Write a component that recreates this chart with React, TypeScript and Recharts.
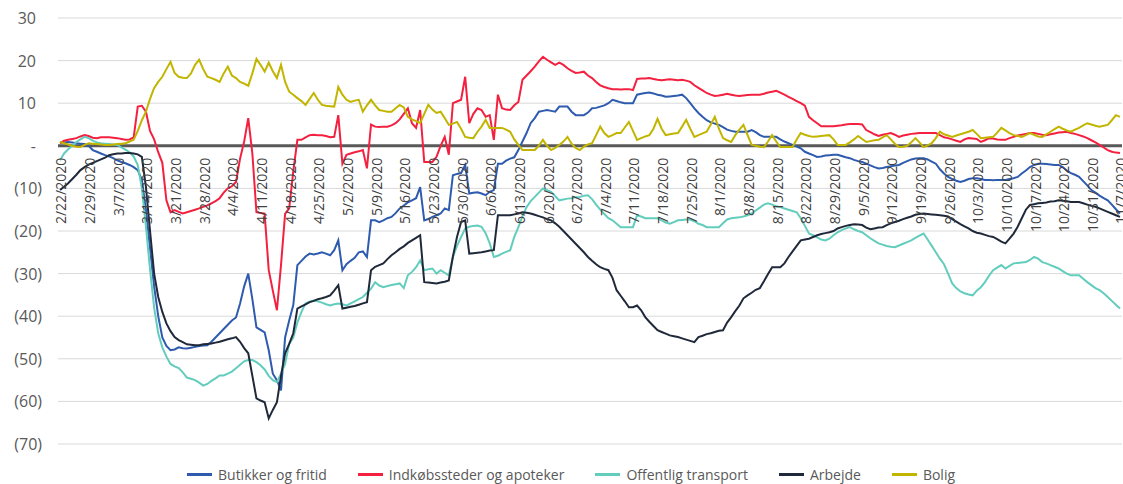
import React from "react";
import {
  LineChart,
  Line,
  XAxis,
  YAxis,
  CartesianGrid,
  ReferenceLine,
} from "recharts";

// daily values, 2/22/2020 .. 11/7/2020 (one row = one week)
const butikker = [
  0.7, 0.8, 0.9, 0.8, 0.6, 0.5, 0.4,
  0.0, -1.0, -1.4, -1.8, -2.2, -2.5, -2.9,
  -3.4, -3.8, -4.1, -4.5, -5.0, -5.7, -8.0,
  -15.0, -24.0, -33.0, -40.0, -45.0, -47.0, -48.0,
  -47.8, -47.3, -47.5, -47.6, -47.4, -47.2, -47.0,
  -46.9, -46.8, -46.0, -45.0, -44.0, -43.0, -42.0,
  -41.0, -40.3, -37.0, -33.0, -30.0, -36.0, -42.6,
  -43.2, -43.8, -48.0, -53.5, -55.0, -57.4, -45.0,
  -41.0, -37.4, -28.0, -27.0, -26.0, -25.3, -25.5,
  -25.3, -25.0, -25.3, -25.7, -24.5, -22.2, -29.2,
  -27.8, -27.0, -26.3, -25.0, -24.8, -26.1, -17.5,
  -17.5, -17.9, -17.5, -17.0, -16.7, -15.8, -14.7,
  -14.0, -13.3, -12.8, -12.3, -9.7, -17.5, -17.2,
  -16.7, -16.3, -15.9, -14.7, -15.1, -6.9, -6.6,
  -6.4, -4.5, -11.2, -11.0, -10.9, -11.2, -11.6,
  -10.8, -10.4, -4.2, -4.2, -3.5, -3.0, -2.7,
  -1.0, 1.0, 3.0, 5.3, 6.5, 8.0, 8.2,
  8.4, 8.2, 8.0, 9.2, 9.2, 9.2, 8.0,
  7.2, 7.2, 7.2, 7.8, 8.8, 8.9, 9.2,
  9.5, 10.0, 10.8, 10.5, 10.2, 10.0, 10.0,
  10.0, 12.0, 12.2, 12.4, 12.5, 12.3, 12.0,
  11.8, 11.5, 11.6, 11.7, 11.8, 12.0, 11.2,
  10.0, 8.8, 7.7, 6.8, 6.0, 5.5, 5.2,
  4.9, 4.4, 3.8, 3.5, 3.3, 3.3, 3.3,
  3.3, 3.7, 3.2, 2.5, 2.1, 2.1, 2.1,
  2.1, 1.5, 1.0, 0.6, 0.2, -0.2, -0.6,
  -1.4, -1.8, -2.2, -2.6, -2.5, -2.3, -2.2,
  -2.1, -2.1, -2.4, -2.7, -2.9, -3.3, -3.6,
  -3.8, -4.2, -4.6, -5.0, -5.3, -5.2, -5.0,
  -4.8, -4.6, -4.5, -4.0, -3.6, -3.2, -3.0,
  -2.9, -2.9, -3.2, -3.7, -4.2, -5.5, -6.5,
  -7.3, -7.8, -8.2, -8.5, -8.2, -7.8, -7.6,
  -7.6, -7.8, -8.0, -8.0, -8.1, -8.0, -8.0,
  -8.0, -7.8, -7.6, -7.3, -6.5, -5.8, -5.0,
  -4.5, -4.2, -4.2, -4.3, -4.4, -4.5, -4.5,
  -5.0, -5.8, -6.4, -6.8, -7.3, -8.3, -9.3,
  -10.4, -11.0, -11.7, -12.3, -12.8, -13.8, -14.9,
  -15.9,
];

const indkob = [
  0.6, 1.2, 1.4, 1.6, 1.8, 2.2, 2.5,
  2.3, 1.9, 1.8, 2.0, 2.0, 2.0, 1.9,
  1.8, 1.6, 1.4, 1.5, 2.0, 9.2, 9.4,
  8.0, 3.5, 1.5, -1.5, -4.0, -12.8, -15.6,
  -15.1, -15.5, -15.9, -15.6, -15.3, -15.0, -14.7,
  -14.3, -14.0, -13.5, -13.0, -12.3, -11.0, -10.0,
  -9.5, -8.5, -3.0, 1.0, 6.5, -1.8, -15.6,
  -15.8, -15.9, -29.2, -34.0, -38.6, -28.0, -16.0,
  -14.7, -6.0, 1.4, 1.4, 2.0, 2.5, 2.6,
  2.5, 2.5, 2.3, 2.0, 2.1, 7.2, -4.2,
  -2.1, -1.8, -1.5, -1.3, -1.0, -5.3, 5.0,
  4.5, 4.4, 4.5, 4.5, 4.8, 5.3, 6.2,
  7.5, 8.8, 5.3, 4.2, 8.4, -3.8, -3.8,
  -3.8, -2.6, 0.0, 2.1, -2.1, 10.0, 10.4,
  10.8, 16.2, 5.3, 7.5, 8.8, 8.4, 6.8,
  7.2, 1.4, 12.0, 8.8, 8.5, 8.4, 9.5,
  10.3, 15.5, 16.5, 17.5, 18.6, 19.8, 20.9,
  20.2, 19.6, 19.0, 19.5, 19.0, 18.2, 17.6,
  17.1, 17.2, 17.4, 16.5, 15.9, 15.0, 14.2,
  13.8, 13.5, 13.3, 13.3, 13.2, 13.3, 13.3,
  13.1, 15.7, 15.8, 15.8, 15.9, 15.7, 15.5,
  15.4, 15.5, 15.6, 15.5, 15.4, 15.5, 15.3,
  15.0, 14.2, 13.6, 13.0, 12.4, 12.0, 11.7,
  11.8, 12.0, 12.2, 12.0, 11.8, 11.7, 11.8,
  11.9, 12.0, 12.0, 12.0, 12.2, 12.5, 12.7,
  12.9, 12.5, 12.0, 11.5, 11.0, 10.5, 10.0,
  9.4, 6.8, 6.0, 5.3, 4.6, 4.6, 4.6,
  4.6, 4.7, 4.8, 5.0, 5.1, 5.1, 5.1,
  5.0, 3.7, 3.2, 2.7, 2.3, 2.6, 2.8,
  3.0, 2.6, 2.1, 2.4, 2.6, 2.8, 2.9,
  3.0, 3.0, 3.0, 3.0, 3.0, 2.5, 2.0,
  1.8, 1.5, 1.2, 0.9, 1.5, 1.8, 1.7,
  1.6, 0.9, 1.3, 1.8, 1.7, 1.5, 1.4,
  1.4, 1.8, 2.1, 2.4, 2.6, 2.8, 3.0,
  3.0, 2.8, 2.6, 2.5, 2.7, 2.9, 3.1,
  3.2, 3.3, 3.0, 2.8, 2.5, 2.2, 1.8,
  1.3, 0.8, 0.2, -0.4, -1.0, -1.4, -1.6,
  -1.7,
];

const transport = [
  -3.4, -1.8, -0.8, 0.0, 0.9, 1.5, 2.1,
  1.8, 1.2, 0.8, 0.6, 0.5, 0.4, 0.3,
  0.2, -0.4, -0.9, -1.5, -2.5, -4.5, -10.0,
  -19.0, -29.0, -38.0, -44.0, -47.3, -49.5, -51.2,
  -51.8, -52.2, -53.2, -54.4, -54.7, -55.0, -55.6,
  -56.3, -55.9, -55.2, -54.6, -53.9, -53.9, -53.5,
  -53.0, -52.2, -51.4, -50.6, -50.3, -50.3, -50.8,
  -51.5, -52.5, -54.0, -55.0, -55.5, -53.5, -51.2,
  -46.5, -45.0, -41.5, -39.0, -37.0, -36.6, -36.3,
  -36.5, -36.8, -37.2, -37.5, -37.2, -37.0, -37.2,
  -37.5, -37.0, -36.5, -36.0, -35.5, -34.5, -33.5,
  -32.0, -32.8, -33.2, -32.9, -32.7, -32.5, -32.3,
  -33.4, -30.4, -29.6, -28.5, -26.9, -29.2, -29.0,
  -28.8, -30.0, -29.2, -29.8, -30.4, -26.1, -23.5,
  -21.4, -19.4, -19.0, -18.8, -18.7, -19.0, -20.5,
  -22.9, -26.1, -25.8, -25.3, -24.9, -24.5, -21.4,
  -19.1, -16.5, -14.4, -13.0, -12.0, -11.0, -10.0,
  -10.4, -10.8, -11.8, -12.8, -12.6, -12.4, -12.3,
  -12.1, -12.0, -11.7, -11.6, -12.5, -13.8, -15.0,
  -16.0, -17.0, -17.5, -18.3, -19.1, -19.1, -19.1,
  -19.1, -16.3, -16.6, -17.0, -17.0, -17.0, -17.0,
  -17.5, -18.0, -18.3, -17.9, -17.5, -17.4, -17.3,
  -17.3, -17.7, -18.3, -18.6, -19.1, -19.1, -19.1,
  -19.1, -18.2, -17.3, -17.0, -16.9, -16.8, -16.6,
  -16.3, -15.9, -15.2, -14.5, -13.8, -13.5, -13.8,
  -14.2, -14.4, -14.7, -15.0, -15.3, -15.6, -17.0,
  -18.8, -20.6, -21.0, -21.5, -22.0, -22.2, -21.8,
  -21.0, -20.3, -19.8, -19.4, -19.1, -19.6, -20.0,
  -20.3, -21.0, -21.7, -22.3, -22.9, -23.2, -23.5,
  -23.7, -23.8, -23.4, -23.0, -22.6, -22.2, -21.6,
  -21.1, -20.6, -22.0, -23.5, -25.0, -26.5, -27.8,
  -30.0, -32.3, -33.4, -34.2, -34.6, -34.9, -35.1,
  -34.0, -33.2, -32.0, -30.5, -29.2, -28.6, -28.0,
  -28.8, -28.2, -27.6, -27.5, -27.4, -27.3, -26.8,
  -26.1, -26.5, -27.3, -27.6, -28.0, -28.4, -28.8,
  -29.4, -30.0, -30.4, -30.4, -30.4, -31.2, -32.0,
  -32.7, -33.4, -33.9, -34.6, -35.5, -36.4, -37.3,
  -38.2,
];

const arbejde = [
  -10.4, -9.6, -8.8, -7.8, -6.8, -5.7, -5.0,
  -4.4, -4.0, -3.6, -3.2, -2.8, -2.2, -2.0,
  -1.8, -1.8, -1.7, -1.7, -1.8, -2.0, -2.6,
  -9.7, -20.0, -30.0, -35.5, -39.0, -41.7, -43.5,
  -44.9, -45.6, -46.1, -46.6, -46.7, -46.8, -46.8,
  -46.6, -46.5, -46.4, -46.2, -46.0, -45.7, -45.4,
  -45.2, -44.9, -46.0, -47.5, -48.7, -54.0, -59.3,
  -59.8, -60.2, -64.0, -62.0, -60.2, -54.0, -48.7,
  -46.5, -44.0, -38.2, -37.7, -37.2, -36.7, -36.4,
  -36.0, -35.8, -35.5, -35.1, -34.0, -32.7, -38.2,
  -38.0, -37.8, -37.6, -37.3, -37.0, -36.7, -29.2,
  -28.4, -28.0, -27.6, -26.6, -25.7, -25.0, -24.2,
  -23.6, -22.8, -22.2, -21.6, -21.0, -32.0, -32.1,
  -32.2, -32.3, -32.1, -31.9, -31.6, -26.0, -21.4,
  -17.9, -17.5, -25.3, -25.2, -25.1, -25.0, -24.8,
  -24.6, -24.5, -16.3, -16.3, -16.3, -16.3, -16.1,
  -15.9, -15.6, -15.7, -15.9, -16.2, -16.5, -16.8,
  -17.2, -17.5, -18.2, -19.0, -20.0, -21.0, -22.0,
  -23.0, -24.0, -25.0, -26.1, -27.0, -27.8, -28.5,
  -28.9, -29.2, -31.0, -33.9, -35.2, -36.5, -37.9,
  -37.9, -37.5, -38.6, -40.2, -41.3, -42.3, -43.3,
  -43.7, -44.1, -44.5, -44.7, -44.9, -45.2, -45.5,
  -45.8, -46.1, -44.9, -44.6, -44.2, -44.0, -43.7,
  -43.4, -43.3, -41.5, -40.2, -38.8, -37.5, -35.8,
  -35.1, -34.5, -33.8, -33.4, -31.8, -30.1, -28.5,
  -28.5, -28.5, -27.6, -26.1, -24.8, -23.5, -22.2,
  -22.0, -21.8, -21.4, -21.0, -20.7, -20.5, -20.3,
  -20.0, -19.4, -19.1, -18.8, -18.6, -18.4, -18.5,
  -18.6, -19.2, -19.6, -19.4, -19.2, -19.1, -18.6,
  -18.2, -17.9, -17.6, -17.2, -16.9, -16.6, -16.2,
  -16.0, -15.9, -16.0, -16.1, -16.2, -16.3, -16.4,
  -16.6, -17.2, -17.8, -18.4, -18.9, -19.4, -20.0,
  -20.4, -20.6, -20.9, -21.2, -21.4, -21.9, -22.5,
  -22.9, -21.8, -20.6, -19.0, -17.0, -15.0, -13.9,
  -13.7, -13.5, -13.4, -13.3, -13.1, -13.0, -12.8,
  -12.9, -13.0, -13.2, -13.2, -13.2, -13.5, -13.8,
  -14.1, -14.3, -14.7, -15.1, -15.5, -15.9, -16.3,
  -16.7,
];

const bolig = [
  0.9, 0.6, 0.3, 0.0, -0.2, -0.3, 0.2,
  0.6, 0.5, 0.4, 0.3, 0.2, 0.2, 0.3,
  0.4, 0.5, 0.6, 1.0, 1.4, 3.5, 6.0,
  8.0, 11.0, 13.6, 15.0, 16.2, 18.0, 19.7,
  17.1, 16.2, 16.0, 15.9, 17.0, 19.0, 20.2,
  18.0, 16.2, 15.9, 15.5, 15.0, 17.0, 18.6,
  16.5, 15.9, 15.0, 14.6, 14.1, 17.0, 20.4,
  19.0, 17.4, 19.5, 17.5, 15.9, 19.0, 15.0,
  12.7, 12.0, 11.2, 10.5, 9.6, 11.0, 12.4,
  10.8, 9.6, 9.4, 9.3, 9.2, 13.8, 12.0,
  10.8, 10.3, 10.6, 10.8, 8.0, 9.5, 10.8,
  9.5, 8.4, 8.2, 8.0, 8.0, 8.8, 9.6,
  9.0, 6.8, 6.2, 5.8, 5.3, 7.5, 9.6,
  8.5, 7.7, 8.0, 6.5, 4.9, 5.2, 5.6,
  4.0, 2.1, 1.9, 1.8, 3.3, 4.5, 6.1,
  4.2, 4.2, 4.2, 4.2, 3.8, 3.3, 1.5,
  0.2, -1.0, -1.0, -1.0, -1.0, 0.0, 1.4,
  0.0, -1.0, -0.5, 0.2, 1.0, 2.1, 0.5,
  -0.5, -1.0, -0.2, 0.3, 0.6, 2.5, 4.5,
  3.0, 2.1, 2.5, 3.0, 3.0, 4.3, 5.6,
  3.5, 1.4, 1.8, 2.2, 2.5, 4.0, 6.3,
  4.0, 2.5, 2.7, 2.9, 3.0, 4.5, 6.1,
  4.0, 2.1, 2.5, 2.9, 3.3, 5.0, 6.8,
  4.0, 1.8, 1.3, 0.9, 2.5, 3.8, 4.9,
  2.5, 0.2, 0.0, -0.2, -0.3, 1.0, 2.5,
  1.0, -0.3, -0.3, -0.3, -0.3, 1.5, 3.0,
  2.6, 2.3, 2.1, 2.2, 2.3, 2.4, 2.5,
  1.5, 0.2, 0.2, 0.2, 0.8, 1.5, 2.3,
  1.6, 0.9, 1.1, 1.3, 1.4, 2.0, 2.5,
  1.5, 0.5, -0.3, -0.2, 0.0, 0.8, 1.8,
  0.8, -0.3, 0.1, 0.6, 1.8, 3.3, 2.7,
  2.4, 2.1, 2.4, 2.7, 3.0, 3.3, 3.7,
  2.8, 1.8, 1.9, 2.0, 2.1, 3.1, 4.2,
  3.6, 3.0, 2.5, 2.3, 2.1, 2.5, 3.0,
  2.6, 2.2, 2.1, 2.7, 3.3, 3.9, 4.5,
  4.0, 3.6, 3.3, 3.8, 4.2, 4.8, 5.3,
  5.0, 4.7, 4.5, 4.7, 4.9, 6.0, 7.2,
  6.8,
];

const weekLabels = [
  "2/22/2020", "2/29/2020", "3/7/2020", "3/14/2020", "3/21/2020", "3/28/2020",
  "4/4/2020", "4/11/2020", "4/18/2020", "4/25/2020", "5/2/2020", "5/9/2020",
  "5/16/2020", "5/23/2020", "5/30/2020", "6/6/2020", "6/13/2020", "6/20/2020",
  "6/27/2020", "7/4/2020", "7/11/2020", "7/18/2020", "7/25/2020", "8/1/2020",
  "8/8/2020", "8/15/2020", "8/22/2020", "8/29/2020", "9/5/2020", "9/12/2020",
  "9/19/2020", "9/26/2020", "10/3/2020", "10/10/2020", "10/17/2020",
  "10/24/2020", "10/31/2020", "11/7/2020",
];

const yTicks = [-70, -60, -50, -40, -30, -20, -10, 0, 10, 20, 30];

const series = [
  { key: "butikker", name: "Butikker og fritid", color: "#2E5BAE", values: butikker },
  { key: "indkob", name: "Indkøbssteder og apoteker", color: "#F4203F", values: indkob },
  { key: "transport", name: "Offentlig transport", color: "#63CDBD", values: transport },
  { key: "arbejde", name: "Arbejde", color: "#1F293A", values: arbejde },
  { key: "bolig", name: "Bolig", color: "#C2B500", values: bolig },
];

function dayLabel(i: number) {
  const d = new Date(Date.UTC(2020, 1, 22 + i));
  return `${d.getUTCMonth() + 1}/${d.getUTCDate()}/${d.getUTCFullYear()}`;
}

const data = butikker.map((_, i) => {
  const row: Record<string, number | string> = { date: dayLabel(i) };
  series.forEach((s) => (row[s.key] = s.values[i]));
  return row;
});

const W = 1123;
const H = 484;
const TOP = 18;
const PLOT_H = 426;
const ZERO_Y = TOP + PLOT_H * 0.3;
const FONT = "'Open Sans', 'DejaVu Sans', sans-serif";

function fmtY(v: number) {
  if (v === 0) return "-";
  if (v < 0) return `(${Math.abs(v)})`;
  return String(v);
}

const YTick = (props: any) => {
  const { y, payload } = props;
  const v = payload.value as number;
  return (
    <text
      x={v < 0 ? 42 : 36}
      y={y}
      textAnchor="end"
      dominantBaseline="central"
      fontSize={16}
      fontFamily={FONT}
      fill="#595959"
    >
      {fmtY(v)}
    </text>
  );
};

// date labels sit on the zero line, reading upwards
const XTick = (props: any) => {
  const { x, payload } = props;
  const tx = x + 1;
  const ty = ZERO_Y + 12;
  return (
    <text
      x={tx}
      y={ty}
      transform={`rotate(-90, ${tx}, ${ty})`}
      textAnchor="end"
      dominantBaseline="central"
      fontSize={14}
      fontFamily={FONT}
      fill="#404040"
    >
      {payload.value}
    </text>
  );
};

export default function App() {
  return (
    <div style={{ position: "absolute", left: 0, top: 0, width: W, height: H, background: "#fff" }}>
      <LineChart
        width={W}
        height={H}
        data={data}
        margin={{ top: TOP, right: 1, bottom: H - TOP - PLOT_H - 10, left: 0 }}
      >
        <CartesianGrid vertical={false} stroke="#D9D9D9" strokeWidth={1} />
        <YAxis
          width={58}
          domain={[-70, 30]}
          ticks={yTicks}
          axisLine={false}
          tickLine={false}
          tick={<YTick />}
        />
        <XAxis
          dataKey="date"
          height={10}
          ticks={weekLabels}
          interval={0}
          axisLine={false}
          tickLine={false}
          padding={{ left: 2, right: 2 }}
          tick={<XTick />}
          {...({ zIndex: 300 } as any)}
        />
        <ReferenceLine
          y={0}
          stroke="#595959"
          strokeWidth={3}
          {...({ zIndex: 350 } as any)}
        />
        {series.map((s) => (
          <Line
            key={s.key}
            type="linear"
            dataKey={s.key}
            name={s.name}
            stroke={s.color}
            strokeWidth={2}
            dot={false}
            activeDot={false}
            isAnimationActive={false}
          />
        ))}
      </LineChart>
      <div
        style={{
          position: "absolute",
          left: 187,
          top: 465,
          display: "flex",
          alignItems: "center",
          fontFamily: FONT,
          fontSize: 14,
          color: "#595959",
          whiteSpace: "nowrap",
        }}
      >
        {series.map((s) => (
          <div key={s.key} style={{ display: "flex", alignItems: "center", marginRight: 31 }}>
            <span style={{ display: "inline-block", width: 25, height: 3, background: s.color, marginRight: 6 }} />
            <span>{s.name}</span>
          </div>
        ))}
      </div>
    </div>
  );
}
